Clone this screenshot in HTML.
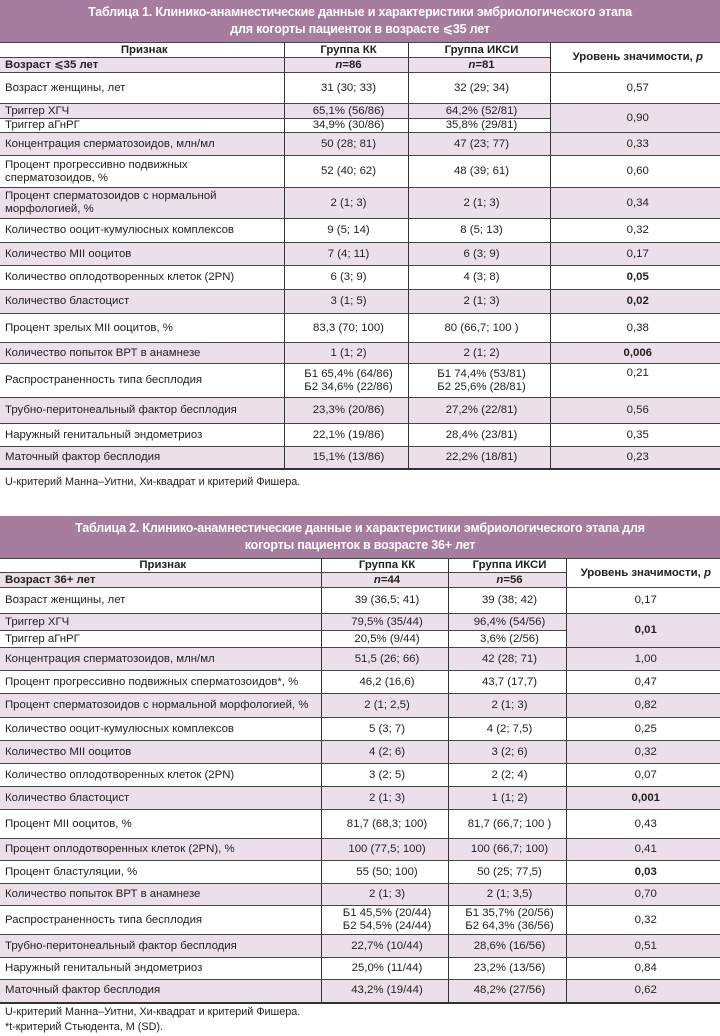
<!DOCTYPE html>
<html><head><meta charset="utf-8"><style>
body{margin:0;width:720px;height:1036px;background:#fff;position:relative;font-family:"Liberation Sans","DejaVu Sans",sans-serif;color:#222;overflow:hidden}
.t{position:absolute;left:0;width:720px}
.title{background:#a67c9f;color:#fff;font-weight:bold;font-size:12.5px;text-align:center;line-height:17px;height:42px;box-sizing:border-box;padding-top:4px;letter-spacing:-0.2px}
table{border-collapse:collapse;table-layout:fixed;width:720px;font-size:11.4px}
td{border-top:1px solid #444;border-bottom:1px solid #444;border-left:1.5px solid #333;padding:0 0 0 5px;text-align:center;vertical-align:middle;line-height:13px;overflow:hidden;white-space:nowrap}
td:first-child{text-align:left;border-left:none}
tr.l td{background:#ebe0ea}
.b{font-weight:bold}
tr.h td{font-weight:bold}
table tr:last-child td{border-bottom:2px solid #333}
.fn{position:absolute;left:5px;font-size:10.8px;line-height:15px}
</style></head><body>

<div class="t" style="top:0">
<div class="title">Таблица 1. Клинико-анамнестические данные и характеристики эмбриологического этапа<br>для когорты пациенток в возрасте ⩽35 лет</div>
<table>
<colgroup><col style="width:284px"><col style="width:124px"><col style="width:142px"><col style="width:170px"></colgroup>
<tr class="h" style="height:15px"><td style="text-align:center">Признак</td><td>Группа КК</td><td>Группа ИКСИ</td><td rowspan="2">Уровень значимости, <i>p</i></td></tr>
<tr class="h l" style="height:15px"><td>Возраст ⩽35 лет</td><td><i>n</i>=86</td><td><i>n</i>=81</td></tr>
<tr style="height:31px"><td>Возраст женщины, лет</td><td>31 (30; 33)</td><td>32 (29; 34)</td><td>0,57</td></tr>
<tr class="l" style="height:15px"><td>Триггер ХГЧ</td><td>65,1% (56/86)</td><td>64,2% (52/81)</td><td rowspan="2">0,90</td></tr>
<tr style="height:14px"><td>Триггер аГнРГ</td><td>34,9% (30/86)</td><td>35,8% (29/81)</td></tr>
<tr class="l" style="height:23px"><td>Концентрация сперматозоидов, млн/мл</td><td>50 (28; 81)</td><td>47 (23; 77)</td><td>0,33</td></tr>
<tr style="height:32px"><td>Процент прогрессивно подвижных<br>сперматозоидов, %</td><td>52 (40; 62)</td><td>48 (39; 61)</td><td>0,60</td></tr>
<tr class="l" style="height:31px"><td>Процент сперматозоидов с нормальной<br>морфологией, %</td><td>2 (1; 3)</td><td>2 (1; 3)</td><td>0,34</td></tr>
<tr style="height:24px"><td>Количество ооцит-кумулюсных комплексов</td><td>9 (5; 14)</td><td>8 (5; 13)</td><td>0,32</td></tr>
<tr class="l" style="height:23px"><td>Количество MII ооцитов</td><td>7 (4; 11)</td><td>6 (3; 9)</td><td>0,17</td></tr>
<tr style="height:24px"><td>Количество оплодотворенных клеток (2PN)</td><td>6 (3; 9)</td><td>4 (3; 8)</td><td class="b">0,05</td></tr>
<tr class="l" style="height:24px"><td>Количество бластоцист</td><td>3 (1; 5)</td><td>2 (1; 3)</td><td class="b">0,02</td></tr>
<tr style="height:29px"><td>Процент зрелых MII ооцитов, %</td><td>83,3 (70; 100)</td><td>80 (66,7; 100 )</td><td>0,38</td></tr>
<tr class="l" style="height:21px"><td>Количество попыток ВРТ в анамнезе</td><td>1 (1; 2)</td><td>2 (1; 2)</td><td class="b">0,006</td></tr>
<tr style="height:34px"><td>Распространенность типа бесплодия</td><td>Б1 65,4% (64/86)<br>Б2 34,6% (22/86)</td><td>Б1 74,4% (53/81)<br>Б2 25,6% (28/81)</td><td style="vertical-align:top;padding-top:3px">0,21</td></tr>
<tr class="l" style="height:26px"><td>Трубно-перитонеальный фактор бесплодия</td><td>23,3% (20/86)</td><td>27,2% (22/81)</td><td>0,56</td></tr>
<tr style="height:23px"><td>Наружный генитальный эндометриоз</td><td>22,1% (19/86)</td><td>28,4% (23/81)</td><td>0,35</td></tr>
<tr class="l" style="height:22px"><td>Маточный фактор бесплодия</td><td>15,1% (13/86)</td><td>22,2% (18/81)</td><td>0,23</td></tr>
</table>
</div>
<div class="fn" style="top:475px">U-критерий Манна–Уитни, Хи-квадрат и критерий Фишера.</div>

<div class="t" style="top:516px">
<div class="title">Таблица 2. Клинико-анамнестические данные и характеристики эмбриологического этапа для<br>когорты пациенток в возрасте 36+ лет</div>
<table>
<colgroup><col style="width:321px"><col style="width:127px"><col style="width:118px"><col style="width:154px"></colgroup>
<tr class="h" style="height:14px"><td style="text-align:center">Признак</td><td>Группа КК</td><td>Группа ИКСИ</td><td rowspan="2">Уровень значимости, <i>p</i></td></tr>
<tr class="h l" style="height:15px"><td>Возраст 36+ лет</td><td><i>n</i>=44</td><td><i>n</i>=56</td></tr>
<tr style="height:26px"><td>Возраст женщины, лет</td><td>39 (36,5; 41)</td><td>39 (38; 42)</td><td>0,17</td></tr>
<tr class="l" style="height:17px"><td>Триггер ХГЧ</td><td>79,5% (35/44)</td><td>96,4% (54/56)</td><td rowspan="2" class="b">0,01</td></tr>
<tr style="height:17px"><td>Триггер аГнРГ</td><td>20,5% (9/44)</td><td>3,6% (2/56)</td></tr>
<tr class="l" style="height:23px"><td>Концентрация сперматозоидов, млн/мл</td><td>51,5 (26; 66)</td><td>42 (28; 71)</td><td>1,00</td></tr>
<tr style="height:23px"><td>Процент прогрессивно подвижных сперматозоидов*, %</td><td>46,2 (16,6)</td><td>43,7 (17,7)</td><td>0,47</td></tr>
<tr class="l" style="height:24px"><td>Процент сперматозоидов с нормальной морфологией, %</td><td>2 (1; 2,5)</td><td>2 (1; 3)</td><td>0,82</td></tr>
<tr style="height:23px"><td>Количество ооцит-кумулюсных комплексов</td><td>5 (3; 7)</td><td>4 (2; 7,5)</td><td>0,25</td></tr>
<tr class="l" style="height:23px"><td>Количество MII ооцитов</td><td>4 (2; 6)</td><td>3 (2; 6)</td><td>0,32</td></tr>
<tr style="height:23px"><td>Количество оплодотворенных клеток (2PN)</td><td>3 (2; 5)</td><td>2 (2; 4)</td><td>0,07</td></tr>
<tr class="l" style="height:23px"><td>Количество бластоцист</td><td>2 (1; 3)</td><td>1 (1; 2)</td><td class="b">0,001</td></tr>
<tr style="height:29px"><td>Процент MII ооцитов, %</td><td>81,7 (68,3; 100)</td><td>81,7 (66,7; 100 )</td><td>0,43</td></tr>
<tr class="l" style="height:22px"><td>Процент оплодотворенных клеток (2PN), %</td><td>100 (77,5; 100)</td><td>100 (66,7; 100)</td><td>0,41</td></tr>
<tr style="height:23px"><td>Процент бластуляции, %</td><td>55 (50; 100)</td><td>50 (25; 77,5)</td><td class="b">0,03</td></tr>
<tr class="l" style="height:22px"><td>Количество попыток ВРТ в анамнезе</td><td>2 (1; 3)</td><td>2 (1; 3,5)</td><td>0,70</td></tr>
<tr style="height:29px"><td>Распространенность типа бесплодия</td><td>Б1 45,5% (20/44)<br>Б2 54,5% (24/44)</td><td>Б1 35,7% (20/56)<br>Б2 64,3% (36/56)</td><td>0,32</td></tr>
<tr class="l" style="height:23px"><td>Трубно-перитонеальный фактор бесплодия</td><td>22,7% (10/44)</td><td>28,6% (16/56)</td><td>0,51</td></tr>
<tr style="height:22px"><td>Наружный генитальный эндометриоз</td><td>25,0% (11/44)</td><td>23,2% (13/56)</td><td>0,84</td></tr>
<tr class="l" style="height:23px"><td>Маточный фактор бесплодия</td><td>43,2% (19/44)</td><td>48,2% (27/56)</td><td>0,62</td></tr>
</table>
</div>
<div class="fn" style="top:1005px">U-критерий Манна–Уитни, Хи-квадрат и критерий Фишера.<br>*t-критерий Стьюдента, M (SD).</div>
</body></html>
